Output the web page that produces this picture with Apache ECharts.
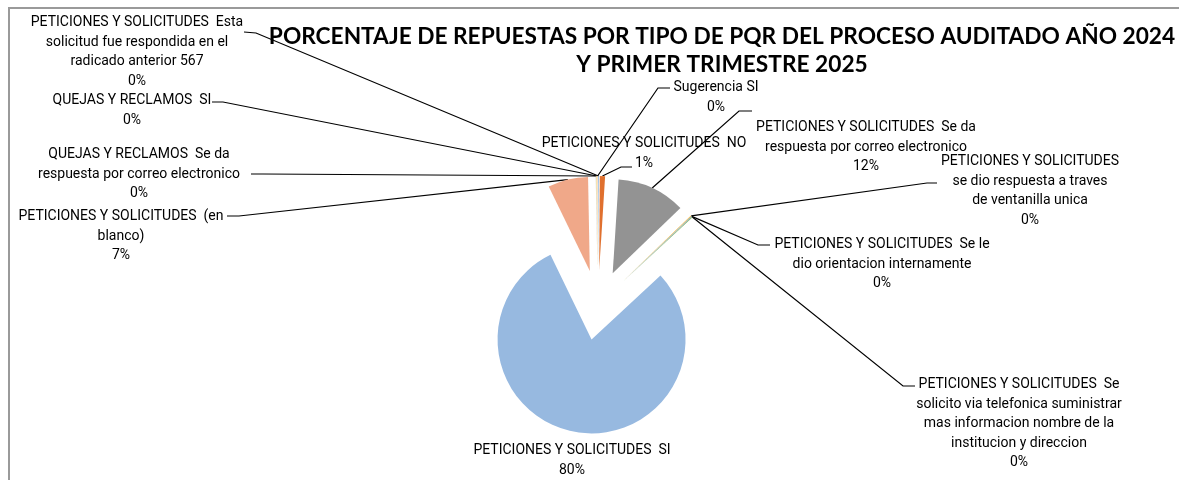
<!DOCTYPE html>
<html><head><meta charset="utf-8">
<script src="https://cdn.jsdelivr.net/npm/echarts@6/dist/echarts.min.js"></script>
<style>html,body{margin:0;padding:0;background:#fff}#c{width:1179px;height:480px}</style>
</head><body><div id="c"></div>
<script>
const categories = [
  'PETICIONES Y SOLICITUDES  Esta solicitud fue respondida en el radicado anterior 567',
  'PETICIONES Y SOLICITUDES  NO',
  'PETICIONES Y SOLICITUDES  Se da respuesta por correo electronico',
  'PETICIONES Y SOLICITUDES  se dio respuesta a traves de ventanilla unica',
  'PETICIONES Y SOLICITUDES  Se le dio orientacion internamente',
  'PETICIONES Y SOLICITUDES  Se solicito via telefonica suministrar mas informacion nombre de la institucion y direccion',
  'PETICIONES Y SOLICITUDES  SI',
  'PETICIONES Y SOLICITUDES  (en blanco)',
  'QUEJAS Y RECLAMOS  Se da respuesta por correo electronico',
  'QUEJAS Y RECLAMOS  SI',
  'Sugerencia SI'
];
// label text as wrapped in the reference
const labelTexts = [
  'PETICIONES Y SOLICITUDES  Esta\nsolicitud fue respondida en el\nradicado anterior 567',
  'PETICIONES Y SOLICITUDES  NO',
  'PETICIONES Y SOLICITUDES  Se da\nrespuesta por correo electronico',
  'PETICIONES Y SOLICITUDES\nse dio respuesta a traves\nde ventanilla unica',
  'PETICIONES Y SOLICITUDES  Se le\ndio orientacion internamente',
  'PETICIONES Y SOLICITUDES  Se\nsolicito via telefonica suministrar\nmas informacion nombre de la\ninstitucion y direccion',
  'PETICIONES Y SOLICITUDES  SI',
  'PETICIONES Y SOLICITUDES  (en\nblanco)',
  'QUEJAS Y RECLAMOS  Se da\nrespuesta por correo electronico',
  'QUEJAS Y RECLAMOS  SI',
  'Sugerencia SI'
];
const values = [0.1, 0.9, 11.8, 0.1, 0.1, 0.1, 79.7, 6.9, 0.1, 0.1, 0.1];
const colors = ['#5B9BD5', '#E0702E', '#939393', '#F2B01E', '#4472C4', '#70AD47', '#97B9E0', '#F0A889', '#C9C9C9', '#FFD966', '#F6C9A8'];
const titleLines = ['PORCENTAJE DE REPUESTAS POR TIPO DE PQR DEL PROCESO AUDITADO AÑO 2024', 'Y PRIMER TRIMESTRE 2025'];

// label placement (centre x, top y) and leader-line end / elbow points
const labelSpec = [
  { x: 137, y: 13, end: [244, 32], elbow: [256, 33] },
  { x: 644, y: 134, end: [632, 167], elbow: [621, 167] },
  { x: 866, y: 118, end: [752, 111], elbow: [739, 111] },
  { x: 1030, y: 152, end: [937, 183], elbow: [927, 183] },
  { x: 882, y: 235, end: [770, 245], elbow: [758, 245] },
  { x: 1019, y: 375, end: [915, 386], elbow: [903, 386] },
  { x: 572, y: 441, end: null },
  { x: 121, y: 207, end: [227, 216], elbow: [239, 216] },
  { x: 139, y: 145, end: [251, 174], elbow: [263, 174] },
  { x: 132, y: 91, end: [212, 102], elbow: [223, 102] },
  { x: 716, y: 78, end: [670, 88], elbow: [658, 88] }
];

const OFFSET = 35;
const CENTER = [598, 305];
const RADIUS = 94;
const TITLE_FONT = 'Lato';
const LABEL_FONT = 'Roboto';

const chart = echarts.init(document.getElementById('c'), null, { renderer: 'canvas' });
chart.setOption({
  animation: false,
  backgroundColor: '#fff',
  title: {
    text: titleLines.join('\n'),
    left: 717, top: 18, textAlign: 'center',
    textStyle: { fontFamily: TITLE_FONT, fontWeight: 'bold', fontSize: 22.7, lineHeight: 28, color: '#000' }
  },
  graphic: [{
    type: 'rect', silent: true, z: -1,
    shape: { x: 9, y: 8, width: 1300, height: 600 },
    style: { fill: 'none', stroke: '#9a9a9a', lineWidth: 2 }
  }],
  series: [{
    // exploded slices
    type: 'pie',
    center: CENTER,
    radius: RADIUS,
    startAngle: 90,
    clockwise: true,
    selectedMode: 'multiple',
    selectedOffset: OFFSET,
    emphasis: { disabled: true },
    itemStyle: { borderWidth: 0 },
    label: { show: false },
    labelLine: { show: false },
    data: categories.map((name, i) => ({
      name: name, value: values[i], selected: true,
      itemStyle: { color: colors[i] }
    }))
  }, {
    // same data, transparent, carries the data labels and leader lines
    type: 'pie',
    center: CENTER,
    radius: RADIUS,
    startAngle: 90,
    clockwise: true,
    silent: true,
    avoidLabelOverlap: false,
    emphasis: { disabled: true },
    itemStyle: { color: 'rgba(0,0,0,0)', borderWidth: 0 },
    label: {
      show: true, position: 'outside', alignTo: 'none',
      fontFamily: LABEL_FONT, fontSize: 14, lineHeight: 19.5, color: '#000', align: 'center',
      formatter: p => labelTexts[p.dataIndex] + '\n' + Math.round(p.percent) + '%'
    },
    labelLine: { show: true, length: 8, length2: 8, lineStyle: { color: '#000', width: 1.2 } },
    labelLayout: function (p) {
      const s = labelSpec[p.dataIndex];
      const r = { x: s.x, y: s.y, align: 'center', verticalAlign: 'top' };
      if (s.end && p.labelLinePoints) {
        const a = p.labelLinePoints[0], b = p.labelLinePoints[1];
        const dx = b[0] - a[0], dy = b[1] - a[1];
        const len = Math.hypot(dx, dy) || 1;
        const start = [a[0] + dx / len * OFFSET, a[1] + dy / len * OFFSET];
        r.labelLinePoints = [start, s.elbow, s.end];
      }
      return r;
    },
    data: categories.map((name, i) => ({
      name: name, value: values[i],
      labelLine: { show: labelSpec[i].end !== null }
    }))
  }]
});
</script></body></html>
